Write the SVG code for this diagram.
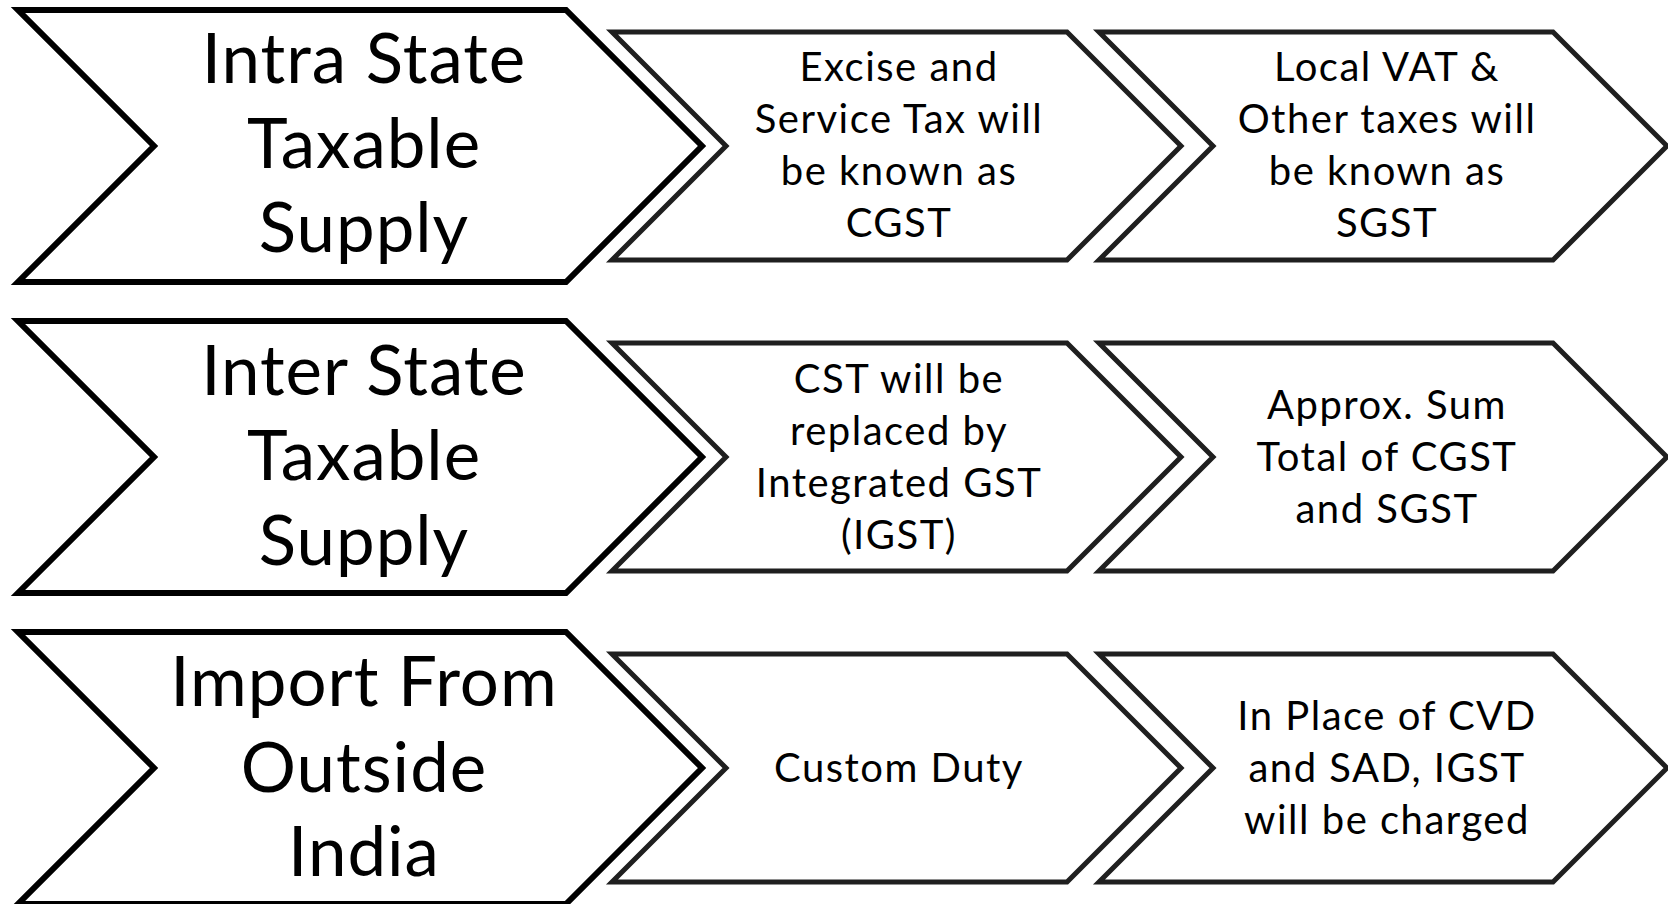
<svg xmlns="http://www.w3.org/2000/svg" width="1668" height="904" viewBox="0 0 1668 904">
<style>
.big{fill:#fff;stroke:#000;stroke-width:6;stroke-linejoin:miter;stroke-miterlimit:10}
.sm{fill:#fff;stroke:#1f1f1f;stroke-width:5;stroke-linejoin:miter;stroke-miterlimit:10}
.tb{font-family:Lato,"Open Sans",sans-serif;font-size:69px;letter-spacing:1px;fill:#000;text-anchor:middle}
.ts{font-family:Lato,"Open Sans",sans-serif;font-size:40px;letter-spacing:1.5px;fill:#000;text-anchor:middle}
</style>
<rect width="1668" height="904" fill="#fff"/>
<defs>
<polygon id="shA" points="18,10 566,10 702,146 566,282 18,282 154,146"/>
<polygon id="shB" points="612,32 1067,32 1181,146 1067,260 612,260 726,146"/>
<polygon id="shC" points="1099,32 1553,32 1667,146 1553,260 1099,260 1213,146"/>
</defs>
<g id="connectors"></g>
<g id="row1">
<g id="intra-state"><use href="#shA" class="big"/>
<text class="tb" x="364" y="83">Intra State</text><text class="tb" x="364" y="168">Taxable</text><text class="tb" x="364" y="252">Supply</text></g>
<g id="cgst"><use href="#shB" class="sm"/>
<text class="ts" x="899" y="81">Excise and</text><text class="ts" x="899" y="133">Service Tax will</text><text class="ts" x="899" y="185">be known as</text><text class="ts" x="899" y="237">CGST</text></g>
<g id="sgst"><use href="#shC" class="sm"/>
<text class="ts" x="1387" y="81">Local VAT &amp;</text><text class="ts" x="1387" y="133">Other taxes will</text><text class="ts" x="1387" y="185">be known as</text><text class="ts" x="1387" y="237">SGST</text></g>
</g>
<g id="row2" transform="translate(0,311)">
<g id="inter-state"><use href="#shA" class="big"/>
<text class="tb" x="364" y="84">Inter State</text><text class="tb" x="364" y="169">Taxable</text><text class="tb" x="364" y="254">Supply</text></g>
<g id="igst"><use href="#shB" class="sm"/>
<text class="ts" x="899" y="82">CST will be</text><text class="ts" x="899" y="134">replaced by</text><text class="ts" x="899" y="186">Integrated GST</text><text class="ts" x="899" y="238">(IGST)</text></g>
<g id="sum"><use href="#shC" class="sm"/>
<text class="ts" x="1387" y="108">Approx. Sum</text><text class="ts" x="1387" y="160">Total of CGST</text><text class="ts" x="1387" y="212">and SGST</text></g>
</g>
<g id="row3" transform="translate(0,622)">
<g id="import"><use href="#shA" class="big"/>
<text class="tb" x="364" y="84">Import From</text><text class="tb" x="364" y="170">Outside</text><text class="tb" x="364" y="254">India</text></g>
<g id="custom"><use href="#shB" class="sm"/>
<text class="ts" x="899" y="160">Custom Duty</text></g>
<g id="cvd"><use href="#shC" class="sm"/>
<text class="ts" x="1387" y="108">In Place of CVD</text><text class="ts" x="1387" y="160">and SAD, IGST</text><text class="ts" x="1387" y="212">will be charged</text></g>
</g>
</svg>
